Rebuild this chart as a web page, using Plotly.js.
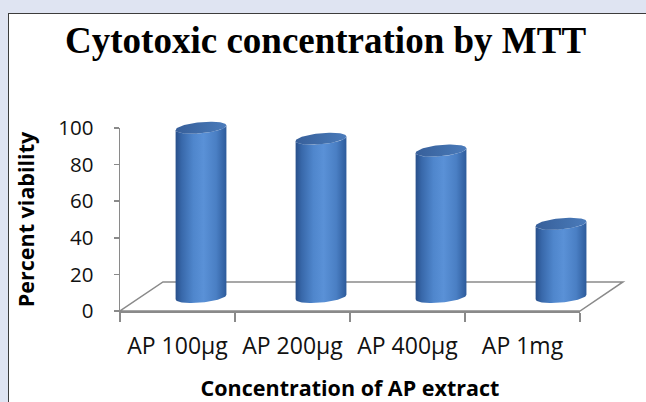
<!DOCTYPE html>
<html>
<head>
<meta charset="utf-8">
<script src="https://cdn.plot.ly/plotly-3.0.1.min.js"></script>
<style>
  html, body { margin:0; padding:0; }
  body { background:#dfe4f2; width:646px; height:402px; overflow:hidden; position:relative; }
  #panel { position:absolute; left:8px; top:13px; width:700px; height:500px; background:#ffffff; border:1px solid #3c3c3c; }
  #chart { position:absolute; left:0; top:0; width:646px; height:402px; }
</style>
</head>
<body>
<div id="panel"></div>
<div id="chart"></div>
<script>
// ---- data ----
const categories = ['AP 100µg', 'AP 200µg', 'AP 400µg', 'AP 1mg'];
const viability = [92.5, 86.5, 80, 40];
const yTickVals = [0, 20, 40, 60, 80, 100];
const catBoundaries = [-0.5, 0.5, 1.5, 2.5, 3.5];

// ---- styling constants ----
const AXIS_GREY = '#8a8a8a';
const RX = 0.196, SK = 0.08, RY = 3.3;   // cylinder ellipse (bar-axis units)
const T0 = Math.atan2(SK, RX);
const N = 48;
const bodyScale = [[0,'#284f8a'],[0.12,'#3868aa'],[0.35,'#4f86cc'],[0.55,'#5a91d7'],[0.8,'#4a7fc4'],[1,'#2d5b9b']];
const capScale = [[0,'#375f9a'],[0.6,'#4270ad'],[1,'#4b7bbb']];

function ex(t){ return RX*Math.cos(t) + SK*Math.sin(t); }
function ey(t){ return RY*Math.sin(t); }

const traces = [];
// invisible trace to anchor the front (category) axes
traces.push({type:'scatter', mode:'markers', x:[0,1,2,3], y:[0,0,0,0], xaxis:'x', yaxis:'y',
  marker:{opacity:0}, hoverinfo:'skip', showlegend:false});

viability.forEach((v, i) => {
  const bxs = [], bys = [];
  for (let k = 0; k <= N; k++) { const t = T0 + Math.PI + Math.PI*k/N; bxs.push(i + ex(t)); bys.push(ey(t)); }
  for (let k = 0; k <= N; k++) { const t = T0 + 2*Math.PI - Math.PI*k/N; bxs.push(i + ex(t)); bys.push(v + ey(t)); }
  traces.push({type:'scatter', mode:'lines', x:bxs, y:bys, xaxis:'x2', yaxis:'y2',
    fill:'toself', line:{width:0}, fillgradient:{type:'horizontal', colorscale:bodyScale},
    hoverinfo:'skip', showlegend:false, name:categories[i]});
  const cxs = [], cys = [];
  for (let k = 0; k <= 2*N; k++) { const t = 2*Math.PI*k/(2*N); cxs.push(i + ex(t)); cys.push(v + ey(t)); }
  traces.push({type:'scatter', mode:'lines', x:cxs, y:cys, xaxis:'x2', yaxis:'y2',
    fill:'toself', line:{width:0}, fillgradient:{type:'horizontal', colorscale:capScale},
    hoverinfo:'skip', showlegend:false});
});

// floor (in bar-axis units)
const FL = {xFL:-0.675, xFR:3.158, dx:0.358, yF:-7.65, yB:8.2};
const floorPath = `M ${FL.xFL} ${FL.yF} L ${FL.xFR} ${FL.yF} L ${FL.xFR+FL.dx} ${FL.yB} L ${FL.xFL+FL.dx} ${FL.yB} Z`;

const sans = 'Open Sans, Noto Sans, sans-serif';
const layout = {
  width:646, height:402, autosize:false,
  paper_bgcolor:'rgba(0,0,0,0)', plot_bgcolor:'rgba(0,0,0,0)',
  margin:{l:120, r:6, t:60, b:80, pad:0},
  showlegend:false,
  title:{text:'Cytotoxic concentration by MTT', font:{family:'Liberation Serif, Times New Roman, serif', size:37, weight:'bold', color:'#000'},
    x:0.504, xanchor:'center', y:0.9, yanchor:'middle'},
  xaxis:{domain:[0, 460/520], range:[-0.5, 3.5], anchor:'y', type:'linear',
    tickmode:'array', tickvals:[0,1,2,3], ticktext:categories, ticks:'',
    tickfont:{family:sans, size:23, color:'#111'}, ticklabelstandoff:14,
    minor:{tickmode:'array', tickvals:catBoundaries, ticks:'outside', ticklen:9, tickwidth:1.5, tickcolor:AXIS_GREY, showgrid:false},
    showline:true, linecolor:AXIS_GREY, linewidth:1.5, showgrid:false, zeroline:false, fixedrange:true,
    title:{text:'Concentration of AP extract', font:{family:sans, size:21.5, weight:'bold', color:'#000'}, standoff:23}},
  yaxis:{domain:[11/262, 194/262], range:[0,100], anchor:'x',
    tickmode:'array', tickvals:yTickVals, ticks:'outside', ticklen:5, tickwidth:1.5, tickcolor:AXIS_GREY,
    tickfont:{family:sans, size:20.5, color:'#111'}, ticklabelstandoff:16,
    showline:true, linecolor:AXIS_GREY, linewidth:1.5, showgrid:false, zeroline:false, fixedrange:true,
    title:{text:'Percent viability', font:{family:sans, size:21.5, weight:'bold', color:'#000'}, standoff:17}},
  xaxis2:{domain:[0,1], range:[-0.675, 3.658], anchor:'y2', visible:false, fixedrange:true},
  yaxis2:{domain:[0,1], range:[-13.66, 129.5], anchor:'x2', visible:false, fixedrange:true},
  shapes:[{type:'path', xref:'x2', yref:'y2', path:floorPath, line:{color:AXIS_GREY, width:1.5}, fillcolor:'rgba(0,0,0,0)', layer:'below'}]
};

Plotly.newPlot('chart', traces, layout, {displayModeBar:false, staticPlot:true});
</script>
</body>
</html>
